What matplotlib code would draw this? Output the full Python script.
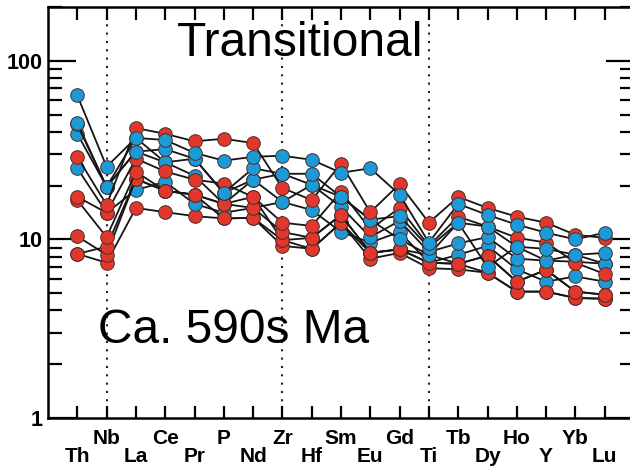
import numpy as np
import matplotlib.pyplot as plt
from matplotlib.ticker import FuncFormatter, NullFormatter, LogLocator

plt.rcParams['font.family'] = ['Liberation Sans', 'DejaVu Sans']

elements = ['Th', 'Nb', 'La', 'Ce', 'Pr', 'P', 'Nd', 'Zr', 'Hf', 'Sm',
            'Eu', 'Gd', 'Ti', 'Tb', 'Dy', 'Ho', 'Y', 'Yb', 'Lu']

# primitive-mantle normalised values
blue1 = [64, 25.5, 37, 36, 30.5, 27.6, 29, 29.4, 27.9, 23.6, 25, 17.8, 9.6, 15.8, 13.7, 12.1, 10.9, 10.0, 10.9]
blue2 = [45, 19.7, 31, 32, 28.3, 18.2, 25, 23.3, 23.3, 17.3, 12.9, 13.5, 9.0, 12.4, 11.8, 9.1, 8.85, 8.2, 8.4]
blue3 = [39, 19.7, 37, 27, 22.7, 15.8, 21.6, 16.2, 20.2, 15.2, 10.3, 12.7, 8.5, 9.5, 10.3, 7.8, 7.6, 7.5, 7.3]
blue4 = [25, 14.1, 18.9, 21, 15.8, 14.1, 15, 16.2, 14.6, 11.0, 9.6, 11.0, 7.4, 8.2, 9.2, 6.8, 5.8, 6.2, 5.8]
blue5 = [44, 19.7, 31, 27, 28.3, 18.2, 21.6, 23.3, 20.2, 17.3, 12.9, 10.0, 8.2, 12.4, 7.0, 9.1, 7.6, 8.2, 7.3]

red1 = [29, 15.6, 42, 39, 35.4, 36.6, 34.6, 19.4, 16.6, 26.5, 14.2, 20.4, 12.4, 17.3, 15.0, 13.4, 12.4, 10.6, 10.2]
red2 = [17.3, 14.1, 28.3, 24, 21.6, 20.5, 17.3, 12.4, 11.9, 18.5, 11.4, 15.0, 9.2, 13.4, 11.8, 10.2, 9.6, 7.4, 6.4]
red3 = [16.6, 10.3, 23.9, 18.7, 17.8, 15.8, 15.0, 11.0, 10.2, 13.7, 8.4, 8.8, 8.2, 7.3, 8.1, 5.8, 6.75, 5.1, 4.9]
red4 = [10.4, 8.2, 21.8, 18.7, 17.8, 13.1, 13.2, 9.9, 8.85, 12.4, 7.8, 8.4, 6.9, 6.8, 6.5, 5.1, 5.1, 4.7, 4.65]
red5 = [8.3, 7.4, 15, 14.2, 13.5, 13.1, 13.2, 9.2, 8.85, 12.4, 8.4, 8.8, 7.4, 7.3, 6.5, 5.1, 5.1, 4.7, 4.65]
red6 = [8.3, 9.1, 21.8, 18.7, 17.8, 15.8, 17.3, 9.9, 10.2, 13.7, 8.4, 8.8, 7.4, 7.3, 8.1, 5.8, 6.75, 5.1, 4.9]

samples = [(red5, 'r'), (blue4, 'b'), (red4, 'r'), (red6, 'r'), (blue3, 'b'),
           (red3, 'r'), (blue5, 'b'), (red2, 'r'), (blue2, 'b'), (red1, 'r'), (blue1, 'b')]
colors = {'r': '#e2372c', 'b': '#1b9ad7'}

fig = plt.figure(figsize=(6.3, 4.69), dpi=100)
ax = fig.add_axes([48 / 630, 51 / 469, 586 / 630, 411 / 469])

x = np.arange(len(elements))
for i, (vals, c) in enumerate(samples):
    ax.plot(x, vals, '-', color='#151515', lw=1.3, zorder=2 + i)
    ax.plot(x, vals, 'o', ms=9.8, mfc=colors[c], mec='#4a2f2b', mew=0.7, zorder=2 + i)

for e in ['Nb', 'Zr', 'Ti']:
    ax.axvline(elements.index(e), color='#222222', ls=(0, (1, 3)), lw=1.5, zorder=1)

ax.set_yscale('log')
ax.set_ylim(1, 200)
ax.set_xlim(-1, 19)

ax.yaxis.set_major_locator(LogLocator(base=10))
ax.yaxis.set_major_formatter(FuncFormatter(lambda v, p: '%g' % v))
ax.yaxis.set_minor_locator(LogLocator(base=10, subs=np.arange(2, 10)))
ax.yaxis.set_minor_formatter(NullFormatter())

low = x[0::2]
high = x[1::2]
ax.set_xticks(low, [elements[i] for i in low])
ax.set_xticks(high, [elements[i] for i in high], minor=True)

ax.tick_params(axis='x', which='both', direction='in', top=True, length=9, width=1.6)
ax.tick_params(axis='x', which='major', pad=21, labelsize=15)
ax.tick_params(axis='x', which='minor', pad=8, labelsize=15)
ax.tick_params(axis='y', which='major', direction='in', right=True, length=20, width=1.6,
               labelsize=15.5, pad=4)
ax.tick_params(axis='y', which='minor', direction='in', right=True, length=10, width=1.6)
for lab in ax.get_xticklabels(which='both') + ax.get_yticklabels():
    lab.set_fontweight('bold')

for s in ax.spines.values():
    s.set_linewidth(1.8)

ax.text(0.43, 0.965, 'Transitional', transform=ax.transAxes, fontsize=34.5,
        ha='center', va='top', zorder=20)
ax.text(0.085, 0.183, 'Ca. 590s Ma', transform=ax.transAxes, fontsize=34.5,
        ha='left', va='baseline', zorder=20)

fig.savefig('out.png', dpi=100)
